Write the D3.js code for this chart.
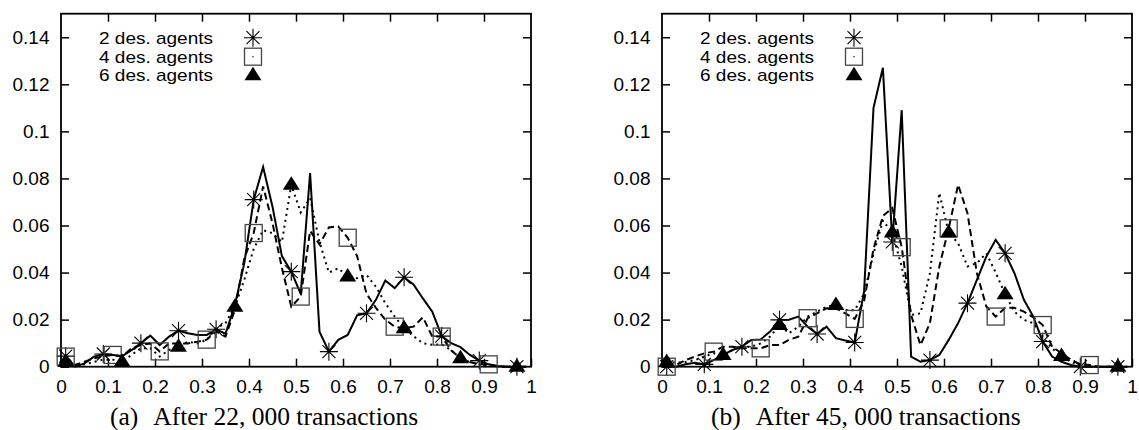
<!DOCTYPE html>
<html>
<head>
<meta charset="utf-8">
<script src="https://cdn.jsdelivr.net/npm/d3@7"></script>
<style>
body{margin:0;background:#fff}
text{font-family:"Liberation Sans",Arial,sans-serif;fill:#000}
.caption{font-family:"Liberation Serif","Times New Roman",serif}
</style>
</head>
<body>
<div id="wrapper"></div>
<script>
// Data: bin centres and the share of agents in each bin
const binCenters=[0.01,0.03,0.05,0.07,0.09,0.11,0.13,0.15,0.17,0.19,
  0.21,0.23,0.25,0.27,0.29,0.31,0.33,0.35,0.37,0.39,
  0.41,0.43,0.45,0.47,0.49,0.51,0.53,0.55,0.57,0.59,
  0.61,0.63,0.65,0.67,0.69,0.71,0.73,0.75,0.77,0.79,
  0.81,0.83,0.85,0.87,0.89,0.91,0.93,0.95,0.97,0.99];

// (a) after 22,000 transactions
const a2=[0.0045,0,0.0014,0.0043,0.0054,0.005,0.0045,0.007,0.010,0.0132,
  0.0092,0.0128,0.0153,0.0142,0.0135,0.0135,0.0159,0.014,0.0262,0.044,
  0.071,0.0849,0.068,0.047,0.0404,0.031,0.0823,0.0149,0.0064,0.0114,
  0.0135,0.0218,0.0227,0.0284,0.0366,0.0334,0.038,0.035,0.029,0.0234,
  0.013,0.010,0.0083,0.005,0.0026,0.001,0.0003,0,0,0];
const a4=[0.0043,0.0007,0.0021,0.0035,0.0045,0.005,0.0043,0.0078,0.0092,0.0099,
  0.0065,0.0099,0.0099,0.0099,0.0106,0.0115,0.015,0.0128,0.0241,0.046,
  0.0568,0.0766,0.061,0.042,0.0255,0.0298,0.0577,0.052,0.0592,0.0596,
  0.0548,0.047,0.031,0.025,0.020,0.017,0.0163,0.017,0.021,0.0128,
  0.0128,0.007,0.0036,0.002,0.001,0.001,0,0,0,0];
const a6=[0.002,0.0005,0.001,0.002,0.003,0.003,0.0021,0.005,0.0078,0.0078,
  0.0043,0.0071,0.0085,0.0106,0.0099,0.0114,0.0163,0.0185,0.0255,0.037,
  0.050,0.058,0.0567,0.053,0.0773,0.0655,0.0716,0.053,0.040,0.0418,
  0.0383,0.0376,0.039,0.034,0.027,0.0213,0.0163,0.013,0.010,0.0093,
  0.0095,0.007,0.0036,0.002,0.001,0.0005,0,0,0,0];

// (b) after 45,000 transactions
const b2=[0,0,0.001,0.0017,0.001,0.0028,0.005,0.0071,0.0085,0.0114,
  0.0116,0.0149,0.0199,0.020,0.0213,0.017,0.0139,0.017,0.0121,0.0111,
  0.0103,0.032,0.110,0.127,0.053,0.109,0.0043,0.0021,0.0028,0.005,
  0.0114,0.0185,0.027,0.0369,0.0468,0.0539,0.0482,0.0397,0.0284,0.0213,
  0.0107,0.0043,0.0021,0.0007,0,0,0,0,0,0];
const b4=[0,0.0007,0.0028,0.0043,0.0057,0.0064,0.0085,0.0085,0.0078,0.0078,
  0.0078,0.0092,0.0092,0.0114,0.0128,0.0206,0.0227,0.0248,0.0248,0.0227,
  0.0203,0.028,0.050,0.064,0.0674,0.0508,0.022,0.0092,0.0185,0.0425,
  0.0588,0.0773,0.0652,0.0397,0.0256,0.0213,0.025,0.025,0.0234,0.021,
  0.0177,0.0085,0.0057,0.003,0.001,0.0007,0,0,0,0];
const b6=[0.002,0.0017,0.002,0.0028,0.0043,0.0057,0.005,0.0071,0.0085,0.0085,
  0.0099,0.0128,0.0177,0.0142,0.017,0.0213,0.0234,0.0255,0.0262,0.0241,
  0.024,0.031,0.048,0.062,0.057,0.0426,0.022,0.0227,0.0397,0.0738,
  0.057,0.0525,0.0426,0.044,0.0482,0.040,0.0308,0.0234,0.0199,0.0185,
  0.0128,0.0078,0.0045,0.002,0.0007,0,0,0,0,0];

const seriesNames=['2 des. agents','4 des. agents','6 des. agents'];
const xTicks=[0,0.1,0.2,0.3,0.4,0.5,0.6,0.7,0.8,0.9,1];
const xTickLabels=['0','0.1','0.2','0.3','0.4','0.5','0.6','0.7','0.8','0.9','1'];
const yTicks=[0,0.02,0.04,0.06,0.08,0.1,0.12,0.14];
const yTickLabels=['0','0.02','0.04','0.06','0.08','0.1','0.12','0.14'];

// Dimension
const dimension={width:1139,height:430,top:13.7,bottom:366.7,plotWidth:470};

const svg=d3.select('#wrapper').append('svg')
  .attr('width',dimension.width).attr('height',dimension.height);

const y=d3.scaleLinear().domain([0,0.15]).range([dimension.bottom,dimension.top]);

// marker shapes
const drawMarker=(g,kind)=>{
  if(kind==='star'){
    g.append('path')
      .attr('d','M-9,0L9,0M0,-9L0,9M-6.5,-6.5L6.5,6.5M-6.5,6.5L6.5,-6.5')
      .attr('stroke','#000').attr('stroke-width',1.1).attr('fill','none');
  } else if(kind==='square'){
    g.append('rect').attr('x',-8.5).attr('y',-8.5).attr('width',17).attr('height',17)
      .attr('stroke','#444').attr('stroke-width',1.3).attr('fill','none');
  } else {
    g.append('path').attr('d','M0,-8.5L8.5,5L-8.5,5Z').attr('fill','#000');
  }
};

const styles=[
  {marker:'star',dash:null,every:4},
  {marker:'square',dash:'7,4',every:5},
  {marker:'triangle',dash:'2,4',every:6}
];

function drawPanel(left,values,capLabel,capText){
  const x=d3.scaleLinear().domain([0,1]).range([left,left+dimension.plotWidth]);
  const panel=svg.append('g');

  // axes with inward ticks on all four sides
  const bottomAxis=panel.append('g').attr('transform',`translate(0,${dimension.bottom})`)
    .call(d3.axisBottom(x).tickValues(xTicks).tickSize(-8).tickPadding(12.5)
      .tickFormat((d,i)=>xTickLabels[i]));
  const topAxis=panel.append('g').attr('transform',`translate(0,${dimension.top})`)
    .call(d3.axisTop(x).tickValues(xTicks.slice(1,-1)).tickSize(-8).tickFormat(''));
  const leftAxis=panel.append('g').attr('transform',`translate(${left},0)`)
    .call(d3.axisLeft(y).tickValues(yTicks).tickSize(-8).tickPadding(11.5)
      .tickFormat((d,i)=>yTickLabels[i]));
  const rightAxis=panel.append('g').attr('transform',`translate(${left+dimension.plotWidth},0)`)
    .call(d3.axisRight(y).tickValues(yTicks.slice(1)).tickSize(-8).tickFormat(''));
  bottomAxis.select('.tick').select('line').remove();
  [bottomAxis,topAxis,leftAxis,rightAxis].forEach(a=>{
    a.select('.domain').remove();
    a.selectAll('line').attr('stroke','#000').attr('stroke-width',1.5);
    a.selectAll('text').attr('font-size',19).attr('fill','#000')
      .style('font-family','"Liberation Sans",Arial,sans-serif');
  });

  panel.append('rect').attr('x',left).attr('y',dimension.top)
    .attr('width',dimension.plotWidth).attr('height',dimension.bottom-dimension.top)
    .attr('fill','none').attr('stroke','#000').attr('stroke-width',1.8);

  const line=d3.line().x((d,i)=>x(binCenters[i])).y(d=>y(d));

  values.forEach((vals,k)=>{
    const st=styles[k];
    panel.append('path').datum(vals).attr('d',line)
      .attr('fill','none').attr('stroke','#000').attr('stroke-width',2)
      .attr('stroke-linejoin','miter')
      .attr('stroke-dasharray',st.dash);
  });
  values.forEach((vals,k)=>{
    const st=styles[k];
    vals.forEach((v,i)=>{
      if(i%st.every!==0) return;
      const g=panel.append('g').attr('transform',`translate(${x(binCenters[i])},${y(v)})`);
      drawMarker(g,st.marker);
    });
  });

  // legend (rows are tight, so the text is stretched to the reference width)
  const legendRows=[37.7,56.7,75.3];
  seriesNames.forEach((name,k)=>{
    panel.append('text').attr('x',left+152).attr('y',legendRows[k]+6)
      .attr('text-anchor','end').attr('font-size',16.4)
      .attr('textLength',114).attr('lengthAdjust','spacingAndGlyphs').text(name);
    const g=panel.append('g').attr('transform',`translate(${left+192},${legendRows[k]})`);
    drawMarker(g,styles[k].marker);
    if(styles[k].marker==='square'){
      g.append('rect').attr('x',-0.6).attr('y',-0.6).attr('width',1.2).attr('height',1.2).attr('fill','#000');
    }
  });

  // caption
  const cap=panel.append('text').attr('class','caption')
    .attr('x',left+49).attr('y',425).attr('font-size',25.5);
  cap.append('tspan').text(capLabel);
  cap.append('tspan').attr('dx',15).text(capText);
}

drawPanel(61,[a2,a4,a6],'(a)','After 22, 000 transactions');
drawPanel(662,[b2,b4,b6],'(b)','After 45, 000 transactions');
</script>
</body>
</html>
